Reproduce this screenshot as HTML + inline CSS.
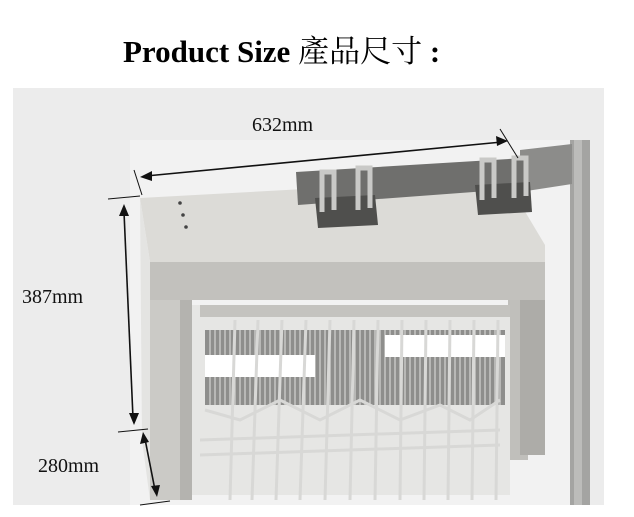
<!DOCTYPE html>
<html><head><meta charset="utf-8"><style>
html,body{margin:0;padding:0;background:#fff;width:634px;height:517px;overflow:hidden}
</style></head><body>
<svg width="634" height="517" viewBox="0 0 634 517" xmlns="http://www.w3.org/2000/svg">
<text x="123" y="62" font-family="Liberation Serif, Noto Serif CJK SC, serif" font-size="31" font-weight="bold" fill="#000">Product Size <tspan font-weight="normal" font-family="Noto Serif CJK TC, Noto Serif CJK SC, serif">產品尺寸</tspan> :</text>
<rect x="13" y="88" width="591" height="417" fill="#ececec"/>
<rect x="130" y="140" width="448" height="365" fill="#f2f2f2"/>
<rect x="570" y="140" width="20" height="365" fill="#a4a4a2"/>
<rect x="574" y="140" width="8" height="365" fill="#bcbcba"/>
<polygon points="520,150 572,144 572,184 520,192" fill="#8c8c8a"/>
<polygon points="140,198 505,178 545,245 545,265 150,262" fill="#dcdbd7"/>
<rect x="150" y="262" width="395" height="38" fill="#c2c1bd"/>
<polygon points="140,198 150,262 150,500 142,440" fill="#e4e4e2"/>
<rect x="150" y="300" width="42" height="200" fill="#cbcac6"/>
<rect x="180" y="300" width="12" height="200" fill="#b4b3af"/>
<rect x="508" y="300" width="20" height="160" fill="#c0bfbb"/>
<rect x="520" y="300" width="25" height="155" fill="#adaca8"/>
<rect x="192" y="305" width="318" height="190" fill="#e6e6e4"/>
<rect x="205" y="330" width="300" height="75" fill="#8e8e8c"/>
<g stroke="#cfcfcd" stroke-width="1.3">
<path d="M210 330V405M215 330V405M220 330V405M225 330V405M230 330V405M235 330V405M240 330V405M245 330V405M250 330V405M255 330V405M260 330V405M265 330V405M270 330V405M275 330V405M280 330V405M285 330V405M290 330V405M295 330V405M300 330V405M305 330V405M310 330V405M315 330V405M320 330V405M325 330V405M330 330V405M335 330V405M340 330V405M345 330V405M350 330V405M355 330V405M360 330V405M365 330V405M370 330V405M375 330V405M380 330V405M385 330V405M390 330V405M395 330V405M400 330V405M405 330V405M410 330V405M415 330V405M420 330V405M425 330V405M430 330V405M435 330V405M440 330V405M445 330V405M450 330V405M455 330V405M460 330V405M465 330V405M470 330V405M475 330V405M480 330V405M485 330V405M490 330V405M495 330V405M500 330V405"/>
</g>
<rect x="205" y="355" width="110" height="22" fill="#fff"/>
<rect x="385" y="335" width="120" height="22" fill="#fff"/>
<rect x="200" y="305" width="310" height="12" fill="#c4c3bf"/>
<g stroke="#d8d8d6" stroke-width="3" fill="none">
<path d="M235 320L230 500M258 320L252 500M282 320L276 500M306 320L300 500M330 320L325 500M354 320L350 500M378 320L375 500M402 320L400 500M426 320L424 500M450 320L448 500M474 320L472 500M498 320L496 500"/>
<path d="M205 410L240 420L280 400L320 420L360 400L400 420L440 405L470 420L500 400"/>
<path d="M200 440L500 430M200 455L500 445"/>
</g>
<polygon points="296,172 525,158 527,188 298,205" fill="#6f6f6d"/>
<polygon points="315,198 375,195 378,225 318,228" fill="#4f4f4d"/>
<polygon points="475,185 530,182 532,212 478,215" fill="#4f4f4d"/>
<g fill="none" stroke="#c9c9c7" stroke-width="5">
<path d="M322 212V172H334V210M358 210V168H370V208M482 200V160H494V198M514 198V158H526V196"/>
</g>
<circle cx="180" cy="203" r="1.8" fill="#444"/><circle cx="183" cy="215" r="1.8" fill="#444"/><circle cx="186" cy="227" r="1.8" fill="#444"/>
<g stroke="#111" stroke-width="1.6" fill="#111">
<line x1="146" y1="176" x2="502" y2="142"/>
<polygon points="140,177 152,171 152,181" stroke="none"/>
<polygon points="508,141 496,136 497,146" stroke="none"/>
<line x1="134" y1="170" x2="142" y2="195" stroke-width="1"/>
<line x1="500" y1="129" x2="518" y2="158" stroke-width="1"/>
<line x1="108" y1="199" x2="140" y2="196" stroke-width="1"/>
<line x1="124" y1="212" x2="133" y2="418"/>
<polygon points="124,204 119,216 129,216" stroke="none"/>
<polygon points="134,425 129,413 139,413" stroke="none"/>
<line x1="118" y1="432" x2="148" y2="429" stroke-width="1"/>
<line x1="145" y1="439" x2="155" y2="490"/>
<polygon points="143,432 140,444 149,442" stroke="none"/>
<polygon points="157,497 151,486 160,485" stroke="none"/>
<line x1="140" y1="505" x2="170" y2="501" stroke-width="1"/>
</g>
<g font-family="Liberation Serif, serif" font-size="20" fill="#111">
<text x="252" y="131">632mm</text>
<text x="22" y="303">387mm</text>
<text x="38" y="472">280mm</text>
</g>
</svg>
</body></html>
